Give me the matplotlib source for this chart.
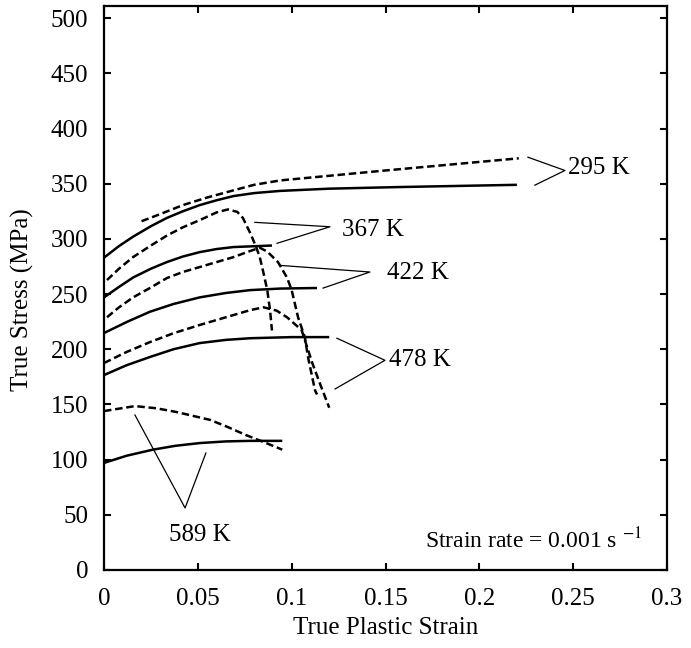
import numpy as np
import matplotlib
matplotlib.use("Agg")
import matplotlib.pyplot as plt

# stress-strain curves (strain, MPa)
s295_solid_x = [0, 0.008, 0.0155, 0.025, 0.0335, 0.042, 0.051, 0.06, 0.069, 0.08, 0.094, 0.12, 0.158, 0.22]
s295_solid_y = [283, 293.5, 302, 311.5, 319, 325, 330.6, 335, 338.8, 341.5, 343.5, 345.5, 347, 349]
s295_dash_x = [0.020, 0.03, 0.042, 0.055, 0.069, 0.08, 0.094, 0.15, 0.221]
s295_dash_y = [316, 322.5, 330.6, 337.5, 344, 349, 353, 362, 373]

s367_solid_x = [0, 0.008, 0.0155, 0.025, 0.0335, 0.042, 0.051, 0.06, 0.069, 0.0895]
s367_solid_y = [247, 256.5, 265, 273, 279, 284, 288, 290.8, 292.6, 294]
s367_dash_x = [0.0016, 0.008, 0.0155, 0.025, 0.0335, 0.042, 0.051, 0.060, 0.066, 0.071, 0.074,
               0.078, 0.081, 0.083, 0.085, 0.087, 0.0885, 0.0895]
s367_dash_y = [262.7, 273, 283.5, 294, 303, 310.5, 317, 324, 326.7, 324.5, 319,
               305, 293, 283.5, 269, 253.6, 235, 217]

s422_solid_x = [0, 0.0125, 0.0245, 0.037, 0.051, 0.065, 0.078, 0.094, 0.1135]
s422_solid_y = [214.7, 225, 234, 241, 247, 251, 253.6, 255, 255.5]
s422_dash_x = [0.0016, 0.008, 0.0155, 0.025, 0.0335, 0.042, 0.051, 0.06, 0.069, 0.077, 0.083,
               0.087, 0.0927, 0.0975, 0.100, 0.1034, 0.107, 0.1087, 0.1124, 0.1135]
s422_dash_y = [229, 238, 247, 256, 264.5, 270, 274.5, 279, 283.5, 288.5, 292,
               288.5, 279, 265, 253.6, 229, 211, 193, 163, 159]

s478_solid_x = [0, 0.012, 0.0245, 0.037, 0.051, 0.065, 0.078, 0.1, 0.12]
s478_solid_y = [176.6, 185.5, 193, 200, 205.6, 208.5, 210, 211, 211]
s478_dash_x = [0, 0.012, 0.0245, 0.037, 0.051, 0.065, 0.078, 0.085, 0.092, 0.0975, 0.1053,
               0.111, 0.1155, 0.120]
s478_dash_y = [187.5, 197.5, 206.5, 214.5, 222, 229, 235.5, 238, 235, 229, 217.4,
               187.5, 167, 147]

s589_solid_x = [0, 0.012, 0.026, 0.038, 0.051, 0.065, 0.078, 0.095]
s589_solid_y = [97, 103.5, 109, 112.5, 115, 116.5, 117, 117]
s589_dash_x = [0, 0.0165, 0.028, 0.039, 0.0565, 0.066, 0.076, 0.085, 0.095]
s589_dash_y = [144, 148.5, 146.5, 143, 136, 129.5, 122, 116, 109]

# temperature labels and their leader lines
labels = ["295 K", "367 K", "422 K", "478 K", "589 K"]
label_pos = [(0.2473, 364), (0.1268, 308), (0.1508, 269), (0.152, 190), (0.0511, 32)]
leader_x = [[0.2259, 0.2456, 0.2296], [0.0804, 0.1204, 0.0922], [0.0938, 0.1417, 0.1167],
            [0.1241, 0.1497, 0.1231], [0.0165, 0.0432, 0.0543]]
leader_y = [[374, 362, 348.7], [315, 311, 296], [276, 270, 255.4],
            [210, 190, 164], [140.4, 56.2, 106]]

xticks = [0, 0.05, 0.1, 0.15, 0.2, 0.25, 0.3]
xticklabels = ["0", "0.05", "0.1", "0.15", "0.2", "0.25", "0.3"]
yticks = list(range(0, 501, 50))

plt.rcParams["font.family"] = ["Liberation Serif", "DejaVu Serif"]
plt.rcParams["mathtext.fontset"] = "stix"

fig = plt.figure(figsize=(6.91, 6.48), dpi=100)
ax = fig.add_axes([0.1505, 0.1204, 0.8148, 0.8703])

lw = 1.8
dash = (3, 1.5)
solids = [(s295_solid_x, s295_solid_y), (s367_solid_x, s367_solid_y), (s422_solid_x, s422_solid_y),
          (s478_solid_x, s478_solid_y), (s589_solid_x, s589_solid_y)]
dashes = [(s295_dash_x, s295_dash_y), (s367_dash_x, s367_dash_y), (s422_dash_x, s422_dash_y),
          (s478_dash_x, s478_dash_y), (s589_dash_x, s589_dash_y)]
for x, y in solids:
    ax.plot(x, y, color="k", lw=lw, solid_capstyle="butt", solid_joinstyle="round")
for x, y in dashes:
    ax.plot(x, y, color="k", lw=lw, dashes=dash, dash_joinstyle="round")

for i in range(len(labels)):
    ax.plot(leader_x[i], leader_y[i], color="k", lw=0.9)
    ha = "center" if labels[i] == "589 K" else "left"
    ax.text(label_pos[i][0], label_pos[i][1], labels[i], fontsize=18, ha=ha, va="center")

ax.text(0.2866, 27, r"Strain rate = 0.001 s $^{-1}$", fontsize=17, ha="right", va="center")

ax.set_xlim(0, 0.3)
ax.set_ylim(0, 511)
ax.set_xticks(xticks)
ax.set_xticklabels(xticklabels)
ax.set_yticks(yticks)
ax.tick_params(direction="in", top=True, right=True, length=5, width=1.5, labelsize=18)
ax.tick_params(axis="x", pad=13)
ax.tick_params(axis="y", pad=11.5)
for sp in ax.spines.values():
    sp.set_linewidth(1.6)

ax.set_xlabel("True Plastic Strain", fontsize=18, labelpad=5)
ax.set_ylabel("True Stress (MPa)", fontsize=18)
ax.yaxis.set_label_coords(-0.124, 0.479)

fig.savefig("out.png", dpi=100)
